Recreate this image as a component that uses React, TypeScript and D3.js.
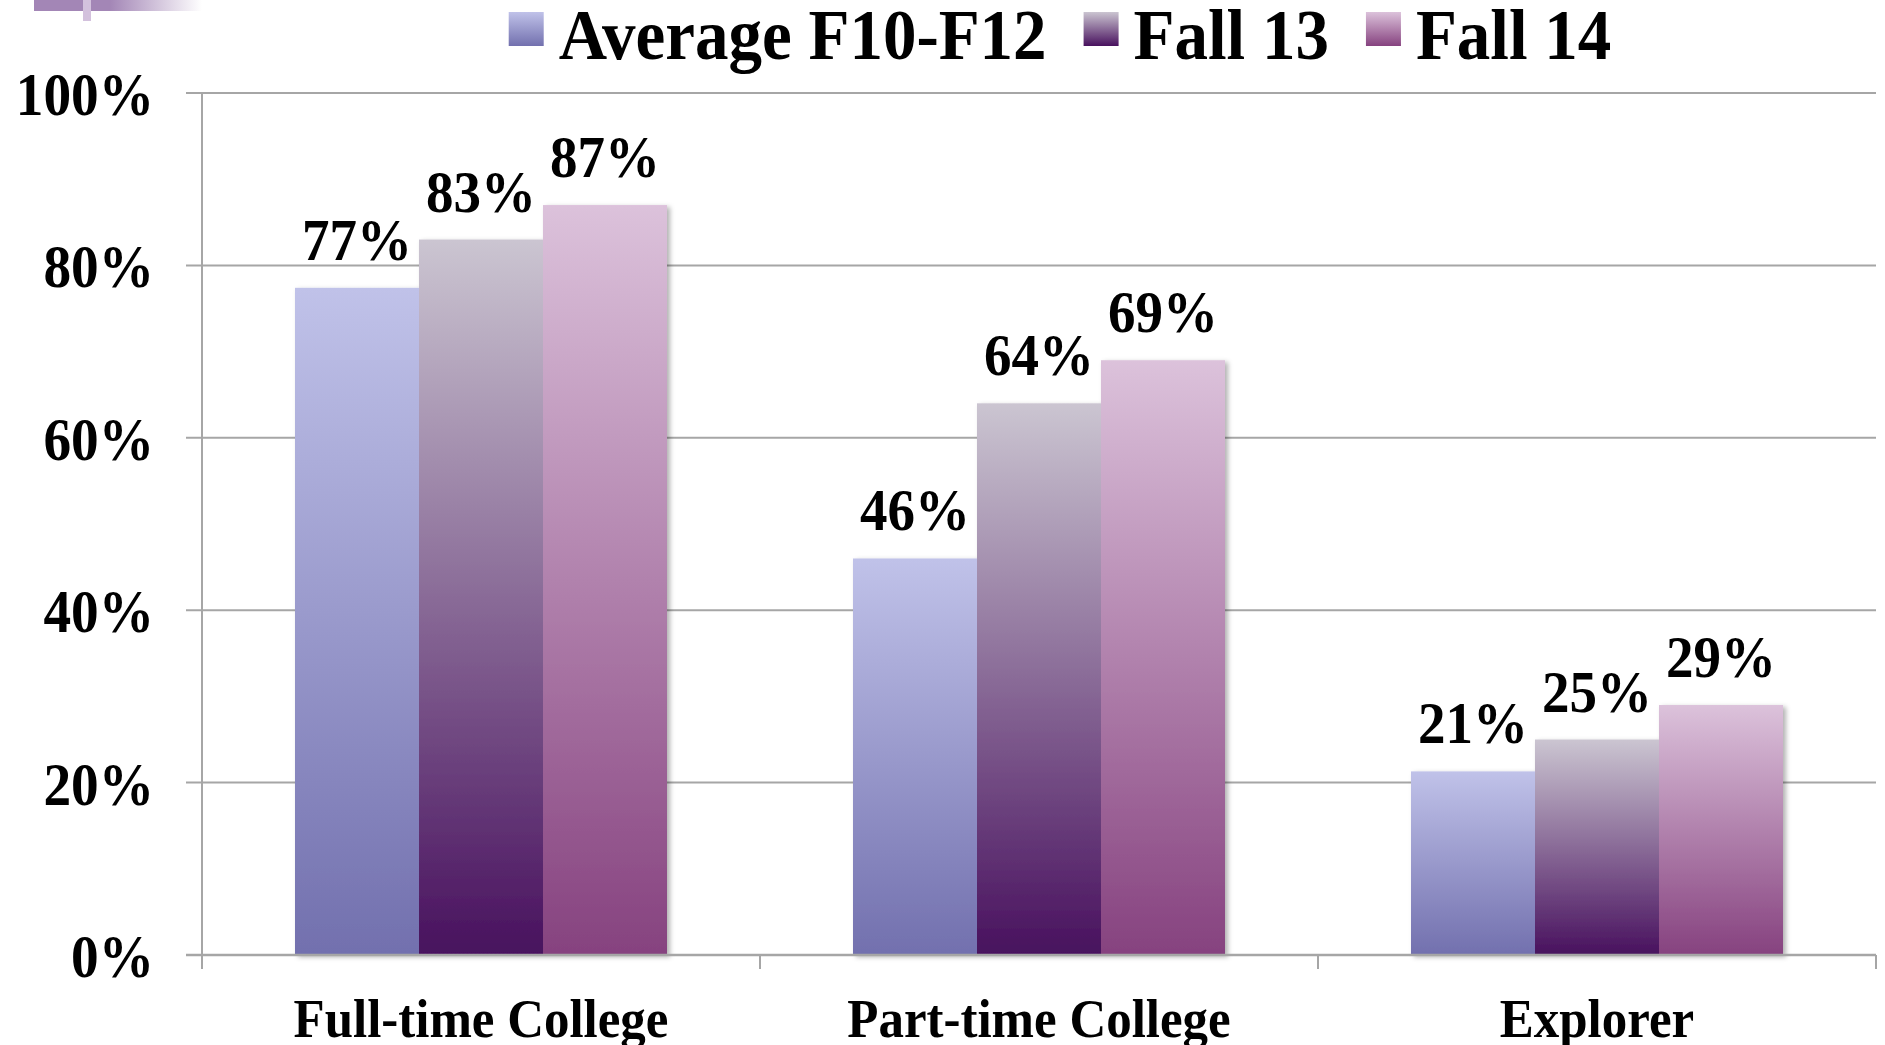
import React, { useEffect, useRef } from "react";
import * as d3 from "d3";

const categories = ["Full-time College", "Part-time College", "Explorer"];
const seriesNames = ["Average F10-F12", "Fall 13", "Fall 14"];
const avgF10F12 = [0.774, 0.46, 0.213];
const fall13 = [0.83, 0.64, 0.25];
const fall14 = [0.87, 0.69, 0.29];
const yTickValues = [0, 0.2, 0.4, 0.6, 0.8, 1.0];
const gradTop = ["#C0C2E9", "#CBC5D1", "#DCC2DB"];
const gradBottom = ["#7270AE", "#48115E", "#86427F"];

const W = 1885;
const H = 1045;
const FONT = "'Liberation Serif', 'Times New Roman', serif";

export default function App() {
  const ref = useRef<SVGSVGElement | null>(null);

  useEffect(() => {
    const svg = d3.select(ref.current);
    svg.selectAll("*").remove();

    const seriesValues = [avgF10F12, fall13, fall14];
    const left = 202, right = 1876, top = 93, bottom = 955;

    const x = d3.scaleBand<string>().domain(categories).range([left, right]).paddingInner(0).paddingOuter(0);
    const bw = x.bandwidth();
    const xs = d3.scaleBand<string>().domain(seriesNames).range([bw / 6, (bw * 5) / 6]).padding(0);
    const y = d3.scaleLinear().domain([0, 1]).range([bottom, top]);

    const defs = svg.append("defs");
    seriesNames.forEach((_, i) => {
      const g = defs.append("linearGradient").attr("id", `grad${i}`).attr("x1", 0).attr("y1", 0).attr("x2", 0).attr("y2", 1);
      g.append("stop").attr("offset", "0%").attr("stop-color", gradTop[i]);
      g.append("stop").attr("offset", "100%").attr("stop-color", gradBottom[i]);
    });
    const fdecor = defs.append("linearGradient").attr("id", "decor").attr("x1", 0).attr("x2", 1).attr("y1", 0).attr("y2", 0);
    fdecor.append("stop").attr("offset", "0%").attr("stop-color", "#A386B6");
    fdecor.append("stop").attr("offset", "45%").attr("stop-color", "#A386B6");
    fdecor.append("stop").attr("offset", "100%").attr("stop-color", "#FFFFFF");
    const filt = defs.append("filter").attr("id", "shadow").attr("x", "-10%").attr("y", "-10%").attr("width", "130%").attr("height", "130%");
    filt.append("feDropShadow").attr("dx", 3).attr("dy", 2).attr("stdDeviation", 2.5).attr("flood-color", "#000").attr("flood-opacity", 0.3);

    // decoration top-left
    svg.append("rect").attr("x", 34).attr("y", 0).attr("width", 168).attr("height", 11).attr("fill", "url(#decor)");
    svg.append("rect").attr("x", 83).attr("y", 0).attr("width", 8).attr("height", 21).attr("fill", "#D3C1DD");

    const gridColor = "#A6A6A6";
    svg.append("g").selectAll("line").data(yTickValues.filter((t) => t > 0)).join("line")
      .attr("x1", left - 16).attr("x2", right).attr("y1", (d) => y(d)).attr("y2", (d) => y(d))
      .attr("stroke", gridColor).attr("stroke-width", 2);

    svg.append("line").attr("x1", left).attr("x2", left).attr("y1", top).attr("y2", bottom + 14)
      .attr("stroke", gridColor).attr("stroke-width", 2);

    const barsG = svg.append("g").attr("filter", "url(#shadow)");
    categories.forEach((c, ci) => {
      seriesNames.forEach((s, si) => {
        const v = seriesValues[si][ci];
        barsG.append("rect")
          .attr("x", (x(c) as number) + (xs(s) as number))
          .attr("y", y(v))
          .attr("width", xs.bandwidth())
          .attr("height", y(0) - y(v))
          .attr("fill", `url(#grad${si})`);
      });
    });

    svg.append("line").attr("x1", left - 16).attr("x2", right).attr("y1", y(0)).attr("y2", y(0))
      .attr("stroke", gridColor).attr("stroke-width", 2.5);
    const tickXs = categories.map((c) => (x(c) as number) + bw);
    svg.append("g").selectAll("line").data(tickXs).join("line")
      .attr("x1", (d) => d).attr("x2", (d) => d).attr("y1", y(0)).attr("y2", y(0) + 14)
      .attr("stroke", gridColor).attr("stroke-width", 2);

    const fmt = d3.format(".0%");
    const stretch = (tx: number, ty: number, sx: number, sy: number) => `translate(${tx},${ty}) scale(${sx},${sy})`;

    // y tick labels
    svg.append("g").selectAll("text").data(yTickValues).join("text")
      .attr("transform", (d) => stretch(154, y(d) + 22, 0.97, 1.08))
      .attr("text-anchor", "end")
      .attr("font-family", FONT).attr("font-weight", "bold").attr("font-size", 57)
      .attr("fill", "#000")
      .text((d) => fmt(d));

    // category labels
    svg.append("g").selectAll("text").data(categories).join("text")
      .attr("transform", (d) => stretch((x(d) as number) + bw / 2, 1037, 0.98, 1.05))
      .attr("text-anchor", "middle")
      .attr("font-family", FONT).attr("font-weight", "bold").attr("font-size", 52)
      .attr("fill", "#000")
      .text((d) => d);

    // data labels
    const lg = svg.append("g");
    categories.forEach((c, ci) => {
      seriesNames.forEach((s, si) => {
        const v = seriesValues[si][ci];
        lg.append("text")
          .attr("transform", stretch((x(c) as number) + (xs(s) as number) + xs.bandwidth() / 2, y(v) - 28, 1, 1.06))
          .attr("text-anchor", "middle")
          .attr("font-family", FONT).attr("font-weight", "bold").attr("font-size", 55)
          .attr("fill", "#000")
          .text(fmt(v));
      });
    });

    // legend
    const legend = svg.append("g");
    const sq = 35, gap = 15, itemGap = 37, sx = 1;
    const items = seriesNames.map((s, i) => {
      const g = legend.append("g");
      g.append("rect").attr("x", 0).attr("y", 12).attr("width", sq).attr("height", sq - 1).attr("fill", `url(#grad${i})`);
      const t = g.append("text").attr("transform", stretch(sq + gap, 59, sx, 1.06))
        .attr("font-family", FONT).attr("font-weight", "bold").attr("font-size", 67)
        .attr("fill", "#000").text(s);
      const tw = (t.node() as SVGTextElement).getComputedTextLength() * sx;
      return { g, w: sq + gap + tw };
    });
    const total = d3.sum(items, (d) => d.w) + itemGap * (items.length - 1);
    let cx = 1060 - total / 2;
    items.forEach((it) => {
      it.g.attr("transform", `translate(${cx},0)`);
      cx += it.w + itemGap;
    });
  }, []);

  return (
    <svg
      ref={ref}
      width={W}
      height={H}
      style={{ position: "absolute", left: 0, top: 0, background: "#fff" }}
    />
  );
}
